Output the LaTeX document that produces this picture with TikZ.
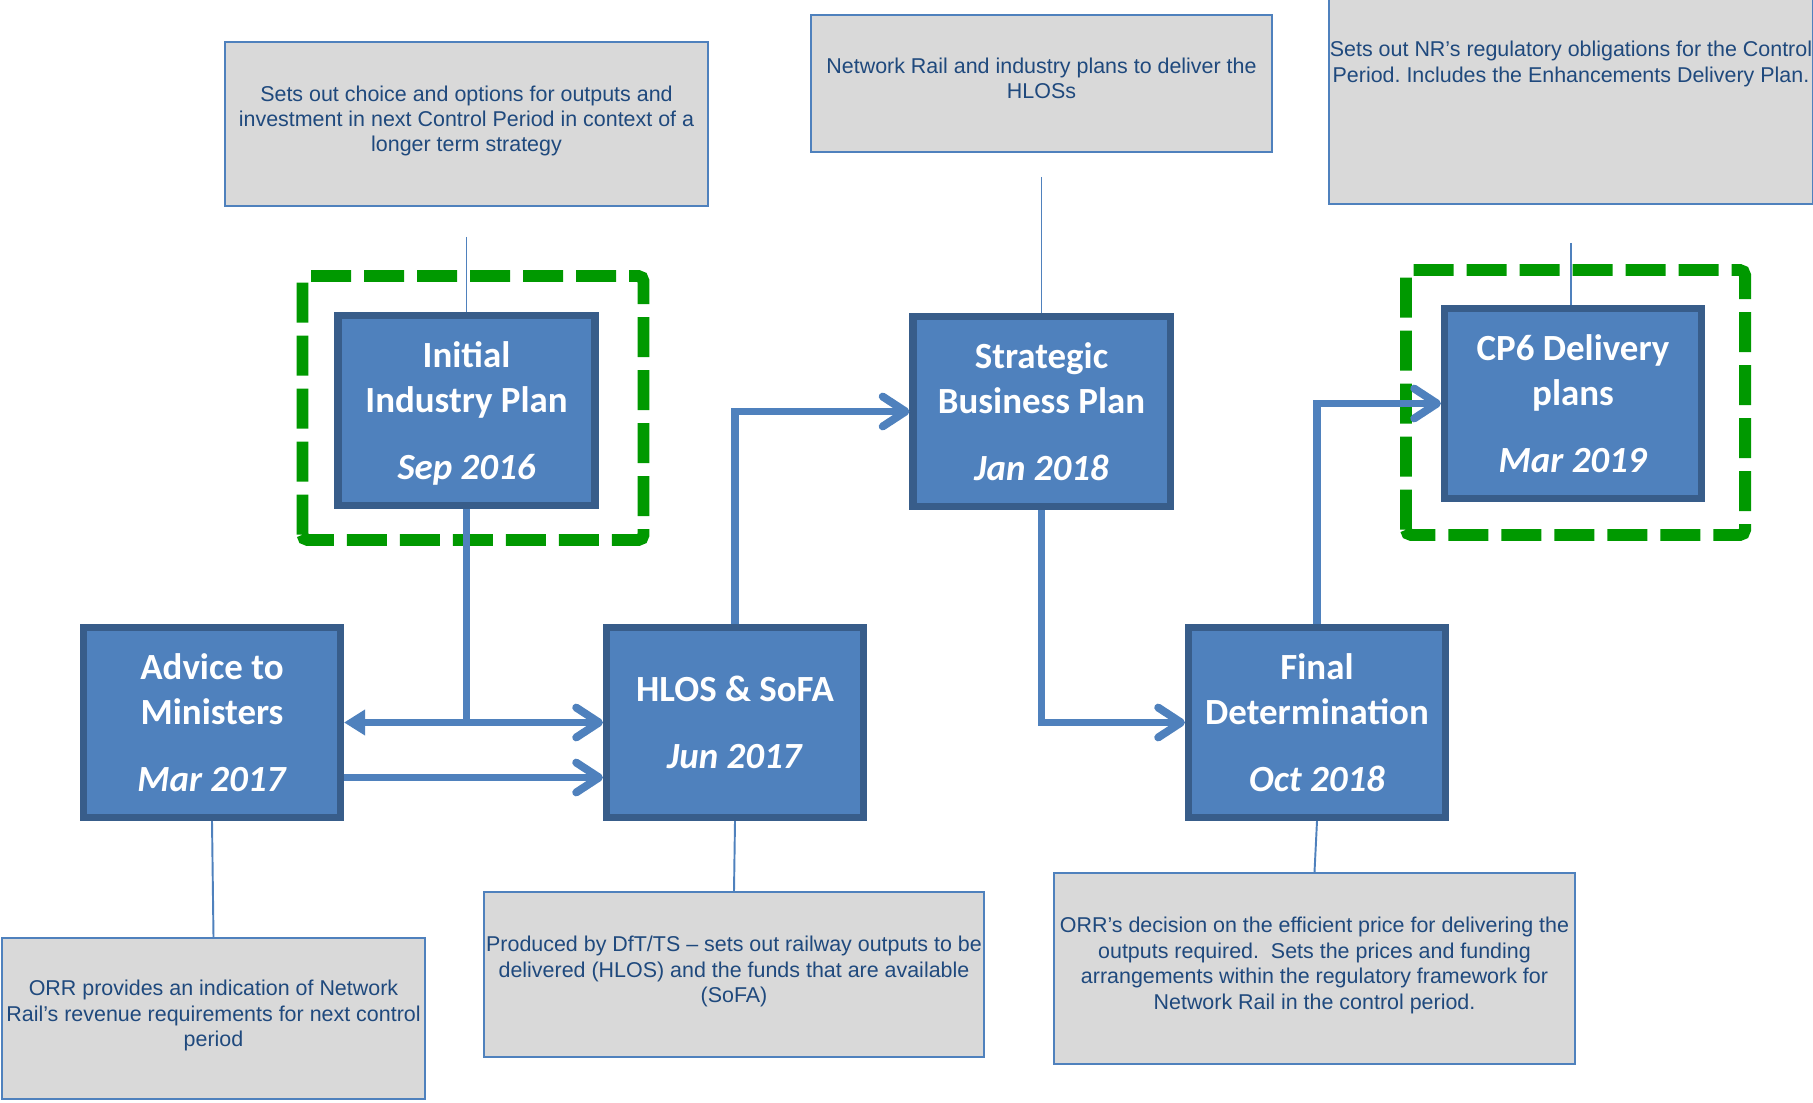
\documentclass[tikz,border=0pt]{standalone}
\usepackage{fontspec}
\setmainfont{Liberation Sans}
\newfontfamily\calibri{Carlito}
\usetikzlibrary{arrows.meta}
\usetikzlibrary{calc}
\usetikzlibrary{positioning}
\definecolor{office blue}{RGB}{79,129,189}
\definecolor{office dark blue}{RGB}{56,93,138}
\definecolor{note grey}{RGB}{217,217,217}
\definecolor{note text}{RGB}{31,73,125}
\definecolor{frame green}{RGB}{0,153,0}
\frenchspacing

\begin{document}
\begin{tikzpicture}[
	stage box/.style={draw=office dark blue, line width=4pt, fill=office blue, minimum width=5.14cm, minimum height=3.8cm, align=center, text depth=0pt, text=white, font=\calibri\bfseries\fontsize{21}{25.6}\selectfont},
	note box/.style={draw=office blue, line width=1.1pt, fill=note grey, align=center, inner xsep=1pt, text depth=6pt, text=note text, font=\fontsize{12.2}{14.5}\selectfont},
	note tie/.style={draw=office blue, line width=1.1pt},
	flow arrow/.style={draw=office blue, line width=4.5pt, -{Straight Barb[length=13pt,width=17pt,round]}},
	back arrow/.style={draw=office blue, line width=4.5pt, -{Triangle[length=12pt,width=14pt]}},
	focus frame/.style={draw=frame green, line width=6.8pt, dash pattern=on 0.8cm off 0.26cm, rounded corners=3pt},
]
	\useasboundingbox (0,0) rectangle (36.26,22.04);

	% stages
	\node[stage box] (iip) at (9.33,13.83) {Initial\\Industry Plan\\[12.5pt]\textit{Sep 2016}};
	\node[stage box] (atm) at (4.24,7.59) {Advice to\\Ministers\\[12.5pt]\textit{Mar 2017}};
	\node[stage box] (hlos) at (14.70,7.59) {HLOS \& SoFA\\[12.5pt]\textit{Jun 2017}};
	\node[stage box] (sbp) at (20.83,13.81) {Strategic\\Business Plan\\[12.5pt]\textit{Jan 2018}};
	\node[stage box] (fd) at (26.34,7.59) {Final\\Determination\\[12.5pt]\textit{Oct 2018}};
	\node[stage box] (cp6) at (31.46,13.97) {CP6 Delivery\\plans\\[12.5pt]\textit{Mar 2019}};

	% notes
	\node[note box, minimum width=9.66cm, minimum height=3.28cm] (iipn) at (9.33,19.56) {Sets out choice and options for outputs and\\investment in next Control Period in context of a\\longer term strategy};
	\node[note box, minimum width=9.22cm, minimum height=2.74cm] (sbpn) at (20.83,20.37) {Network Rail and industry plans to deliver the\\HLOSs};
	\node[note box, minimum width=9.68cm, inner sep=0pt, text depth=, anchor=south] (cp6n) at (31.42,17.94) {\parbox[t][4.3cm][t]{9.66cm}{\centering\vspace*{1.04cm}\makebox[\linewidth]{Sets out NR’s regulatory obligations for the Control}\\\makebox[\linewidth]{Period. Includes the Enhancements Delivery Plan.}}};
	\node[note box, minimum width=8.46cm, minimum height=3.22cm] (atmn) at (4.27,1.67) {ORR provides an indication of Network\\Rail’s revenue requirements for next control\\period};
	\node[note box, minimum width=9.92cm, minimum height=3.30cm] (hlosn) at (14.68,2.55) {Produced by DfT/TS – sets out railway outputs to be\\delivered (HLOS) and the funds that are available\\(SoFA)};
	\node[note box, minimum width=10.42cm, minimum height=3.82cm] (fdn) at (26.29,2.67) {ORR’s decision on the efficient price for delivering the\\outputs required.\ \ Sets the prices and funding\\arrangements within the regulatory framework for\\Network Rail in the control period.};

	% green frames
	\draw[focus frame] ($(iip.south west)+(-0.64,-0.62)$) rectangle ($(iip.north east)+(0.90,0.72)$);
	\draw[focus frame] ($(cp6.south west)+(-0.70,-0.66)$) rectangle ($(cp6.north east)+(0.80,0.70)$);

	% ties
	\coordinate[below=0.6cm of iipn] (iipt);
	\coordinate[below=0.48cm of sbpn] (sbpt);
	\coordinate[below=0.76cm of cp6n] (cp6t);
	\draw[note tie] (iipt) -- (iip.north);
	\draw[note tie] (sbpt) -- (sbp.north);
	\draw[note tie] (cp6t) -- (cp6t |- cp6.north);
	\draw[note tie] (atm.south) -- (atmn.north);
	\draw[note tie] (hlos.south) -- (hlosn.north);
	\draw[note tie] (fd.south) -- (fdn.north);

	% flows
	\draw[back arrow] (iip.south) |- (atm.east);
	\draw[flow arrow] (iip.south) |- (hlos.west);
	\draw[flow arrow] ([yshift=-1.1cm]atm.east) -- ([yshift=-1.1cm]hlos.west);
	\draw[flow arrow] (hlos.north) |- (sbp.west);
	\draw[flow arrow] (sbp.south) |- (fd.west);
	\draw[flow arrow] (fd.north) |- (cp6.west);
\end{tikzpicture}
\end{document}
